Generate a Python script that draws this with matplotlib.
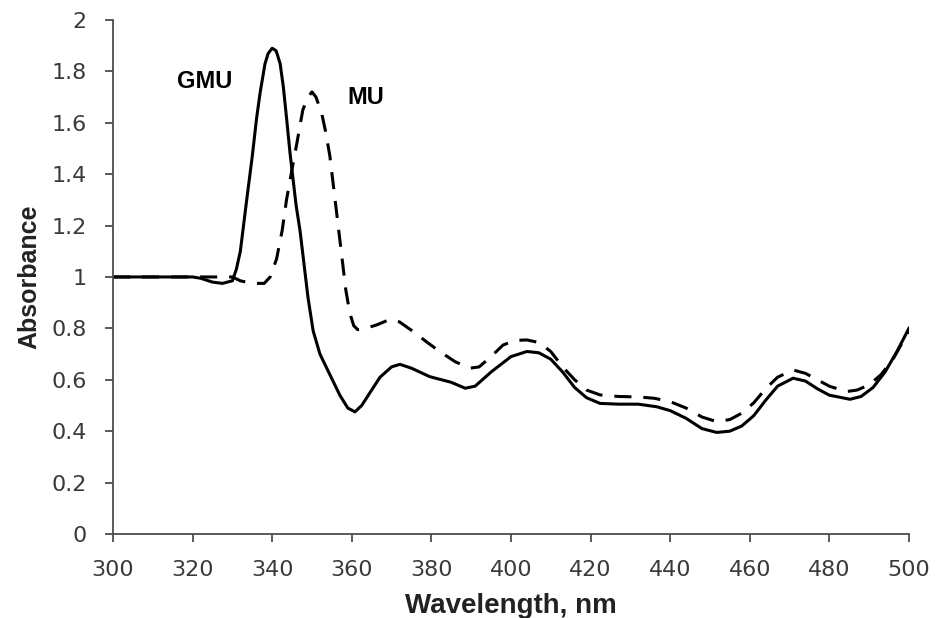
import numpy as np
import matplotlib
matplotlib.use('Agg')
import matplotlib.pyplot as plt

# wavelength (nm) and absorbance
gmu_wl = [300, 310, 320, 322, 325, 327.5, 330, 331, 332, 333.6, 335, 336.1, 337,
          338.2, 339, 340, 341, 342, 342.8, 343.6, 344.5, 346, 347, 348, 349, 350.3, 352,
          354.5, 357, 359, 360.8, 362.5, 365, 367.1, 370, 372.1, 375, 379.6, 385,
          388.5, 391, 395, 400, 404, 407, 410, 413, 416, 419, 422.4, 427, 432,
          436.6, 440, 444, 448, 451.7, 455, 458, 461, 464, 467, 470.9, 474, 477,
          480, 485.2, 488, 491, 494, 497, 500]
gmu_abs = [1.0, 1.0, 1.0, 0.995, 0.98, 0.975, 0.985, 1.03, 1.10, 1.30, 1.47, 1.62, 1.72,
           1.83, 1.87, 1.89, 1.88, 1.83, 1.74, 1.62, 1.48, 1.28, 1.18, 1.05, 0.92, 0.79, 0.70,
           0.62, 0.54, 0.49, 0.475, 0.50, 0.56, 0.61, 0.65, 0.66, 0.645, 0.612, 0.59,
           0.567, 0.575, 0.63, 0.69, 0.71, 0.705, 0.68, 0.63, 0.57, 0.53, 0.508, 0.505, 0.505,
           0.495, 0.48, 0.45, 0.41, 0.395, 0.40, 0.42, 0.46, 0.52, 0.575, 0.606, 0.595, 0.565,
           0.54, 0.524, 0.535, 0.57, 0.63, 0.71, 0.80]

mu_wl = [300, 320, 326, 330, 332, 335, 338, 339.5, 341.1, 342.5, 343.6, 345, 346.2,
         347.7, 349, 350, 351, 352.4, 353.5, 354.5, 355.5, 356.5, 357.5, 358.5, 359.5,
         360.5, 361.5, 363, 366.2, 369.6, 372, 375.5, 379, 382.2, 386, 389.7, 392, 395,
         398, 401, 404, 407, 410, 413, 416, 419, 422.4, 427, 432, 436, 440, 444, 448,
         451.7, 455, 458, 461, 464, 467, 470.9, 474, 477, 480, 484.3, 487, 490, 493, 496, 500]
mu_abs = [1.0, 1.0, 1.0, 1.0, 0.985, 0.975, 0.975, 1.0, 1.07, 1.18, 1.30, 1.42, 1.52,
          1.65, 1.70, 1.72, 1.70, 1.64, 1.56, 1.47, 1.34, 1.21, 1.08, 0.95, 0.86,
          0.81, 0.795, 0.798, 0.813, 0.835, 0.825, 0.787, 0.745, 0.709, 0.67, 0.645, 0.65, 0.69,
          0.735, 0.753, 0.755, 0.745, 0.71, 0.65, 0.60, 0.56, 0.541, 0.535, 0.533, 0.528, 0.515, 0.49, 0.455,
          0.437, 0.445, 0.47, 0.51, 0.565, 0.61, 0.638, 0.625, 0.60, 0.575, 0.554, 0.56, 0.58, 0.62, 0.68, 0.79]

xticks = np.arange(300, 501, 20)
yticks = np.arange(0, 2.01, 0.2)
ytick_labels = ['0', '0.2', '0.4', '0.6', '0.8', '1', '1.2', '1.4', '1.6', '1.8', '2']

axis_col = '#4d4d4d'
text_col = '#3a3a3a'

fig = plt.figure(figsize=(9.37, 6.18), dpi=100)
ax = fig.add_axes([0.1206, 0.136, 0.8494, 0.8317])

ax.plot(gmu_wl, gmu_abs, color='black', lw=2.2, solid_joinstyle='round')
ax.plot(mu_wl, mu_abs, color='black', lw=2.2, dashes=(5.6, 3.9))

ax.set_xlim(300, 500)
ax.set_ylim(0, 2)
ax.set_xticks(xticks)
ax.set_yticks(yticks)
ax.set_yticklabels(ytick_labels)

for s in ['top', 'right']:
    ax.spines[s].set_visible(False)
for s in ['left', 'bottom']:
    ax.spines[s].set_color(axis_col)
    ax.spines[s].set_linewidth(1.3)
ax.tick_params(direction='out', length=6, width=1.3, color=axis_col,
               labelsize=16, labelcolor=text_col, pad=13)

ax.set_xlabel('Wavelength, nm', fontsize=20, fontweight='bold',
              family='Liberation Sans', color='#222222', labelpad=9)
ax.set_ylabel('Absorbance', fontsize=18, fontweight='bold',
              family='Liberation Sans', color='#222222', labelpad=7)

ax.text(323, 1.76, 'GMU', fontsize=17, fontweight='bold', family='Liberation Sans',
        ha='center', va='center')
ax.text(363.5, 1.70, 'MU', fontsize=17, fontweight='bold', family='Liberation Sans',
        ha='center', va='center')

fig.savefig('out.png', dpi=100)
